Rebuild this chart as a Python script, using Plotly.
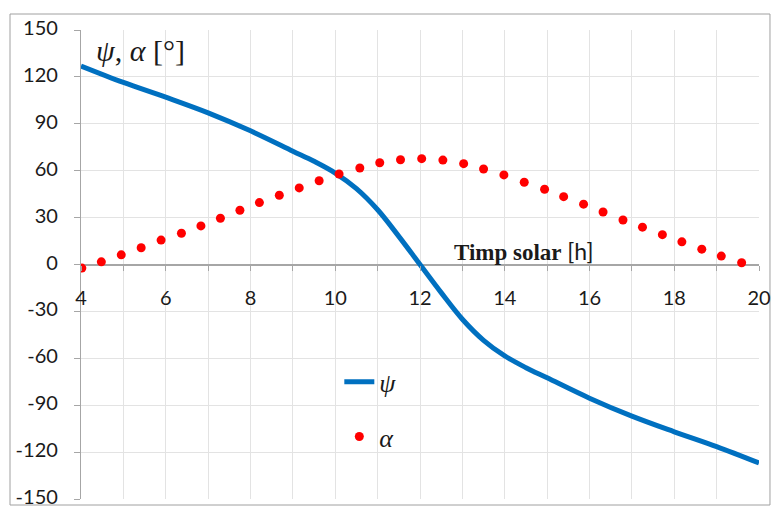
import plotly.graph_objects as go

# ---- data ----
t_psi = [4, 5, 6, 7, 8, 9, 9.5, 10, 10.5, 11, 11.5, 12, 12.5, 13, 13.5, 14, 14.5, 15, 16, 17, 18, 19, 20]
psi = [127, 116.5, 107, 97, 85.5, 72.5, 66, 58.5, 48.5, 35, 18, 0, -18, -35, -48.5, -58.5, -66, -72.5,
       -85.5, -97, -107, -116.5, -127]

t_alpha = [4.02, 4.48, 4.95, 5.42, 5.89, 6.37, 6.83, 7.29, 7.75, 8.21, 8.68, 9.15, 9.62, 10.09, 10.58,
           11.05, 11.54, 12.04, 12.54, 13.03, 13.50, 13.98, 14.46, 14.94, 15.39, 15.86, 16.32, 16.79,
           17.25, 17.72, 18.18, 18.65, 19.11, 19.59]
alpha = [-2.3, 1.7, 6.2, 10.7, 15.6, 20.0, 24.7, 29.6, 34.7, 39.6, 44.3, 49.0, 53.6, 57.9, 61.7,
         65.1, 67.0, 67.7, 66.8, 64.5, 61.1, 57.3, 52.6, 48.1, 43.4, 38.6, 33.6, 28.5,
         23.9, 19.1, 14.5, 9.8, 5.4, 1.1]

x_tick_vals = [4, 6, 8, 10, 12, 14, 16, 18, 20]
x_tick_text = ["4", "6", "8", "10", "12", "14", "16", "18", "20"]
y_tick_vals = [150, 120, 90, 60, 30, 0, -30, -60, -90, -120, -150]
y_tick_text = ["150", "120", "90", "60", "30", "0", "-30", "-60", "-90", "-120", "-150"]

series_names = ["ψ", "α"]

GRID = "#e3e3e3"
AXIS = "#a6a6a6"
TICKFONT = dict(family="Lato, 'Open Sans', sans-serif", size=20, color="#1a1a1a")

fig = go.Figure()
fig.add_trace(go.Scatter(
    x=t_psi, y=psi, mode="lines", name=series_names[0], legendgroup="a",
    line=dict(color="#0070C0", width=5, shape="spline", smoothing=1.0),
))
fig.add_trace(go.Scatter(
    x=t_alpha, y=alpha, mode="markers", name=series_names[1], legendgroup="b",
    marker=dict(color="#FF0000", size=9, line=dict(width=0)),
))

# plot area: 81..759 x 30..499 in a 772x508 page (body margin removed by post_script)
fig.update_layout(
    width=772, height=508,
    margin=dict(l=81, r=13, t=30, b=9, autoexpand=False),
    paper_bgcolor="white", plot_bgcolor="white",
    showlegend=True,
    legend=dict(
        x=0.381, y=0.30, xanchor="left", yanchor="top",
        bgcolor="rgba(0,0,0,0)", borderwidth=0,
        font=dict(family="'Liberation Serif', 'DejaVu Serif', serif", size=26, style="italic", color="#1a1a1a"),
        traceorder="grouped", tracegroupgap=18, itemwidth=30,
    ),
    xaxis=dict(
        range=[4, 20], anchor="free", position=0.5,
        tickmode="array", tickvals=x_tick_vals, ticktext=x_tick_text,
        ticks="outside", ticklen=5, tickcolor=AXIS, tickwidth=1,
        tickfont=TICKFONT, ticklabelstandoff=10, ticklabeloverflow="allow",
        showgrid=True, gridcolor=GRID, gridwidth=1,
        minor=dict(dtick=1, tick0=4, ticks="outside", ticklen=5, tickcolor=AXIS,
                   showgrid=True, gridcolor=GRID, gridwidth=1),
        showline=False, zeroline=False, automargin=False, fixedrange=True,
    ),
    yaxis=dict(
        range=[-150, 150],
        tickmode="array", tickvals=y_tick_vals, ticktext=y_tick_text,
        ticks="outside", ticklen=6, tickcolor=AXIS, tickwidth=1,
        tickfont=TICKFONT, ticklabelstandoff=12, ticklabelshift=-2, ticklabeloverflow="allow",
        showgrid=True, gridcolor=GRID, gridwidth=1,
        showline=True, linecolor=AXIS, linewidth=1.3,
        zeroline=True, zerolinecolor=AXIS, zerolinewidth=1.5,
        automargin=False, fixedrange=True,
    ),
    shapes=[dict(type="rect", xref="paper", yref="paper",
                 x0=-0.1047, x1=1.0162, y0=-0.0128, y1=1.0341,
                 line=dict(color="#a0a0a0", width=1), fillcolor="rgba(0,0,0,0)", layer="below")],
    annotations=[
        dict(x=4.3, y=137, xref="x", yref="y", xanchor="left", yanchor="middle", showarrow=False,
             text="<i>ψ</i>, <i>α</i> [°]",
             font=dict(family="'Liberation Serif', serif", size=30, color="#1a1a1a")),
        dict(x=12.75, y=8.5, xref="x", yref="y", xanchor="left", yanchor="middle", showarrow=False,
             text="<b>Timp solar</b> <span style='font-family:Lato'>[h]</span>",
             font=dict(family="'Liberation Serif', serif", size=23, color="#1a1a1a")),
    ],
)

fig.write_html("out.html",
               config={"displayModeBar": False},
               post_script="document.body.style.margin='0';document.body.style.overflow='hidden';")
